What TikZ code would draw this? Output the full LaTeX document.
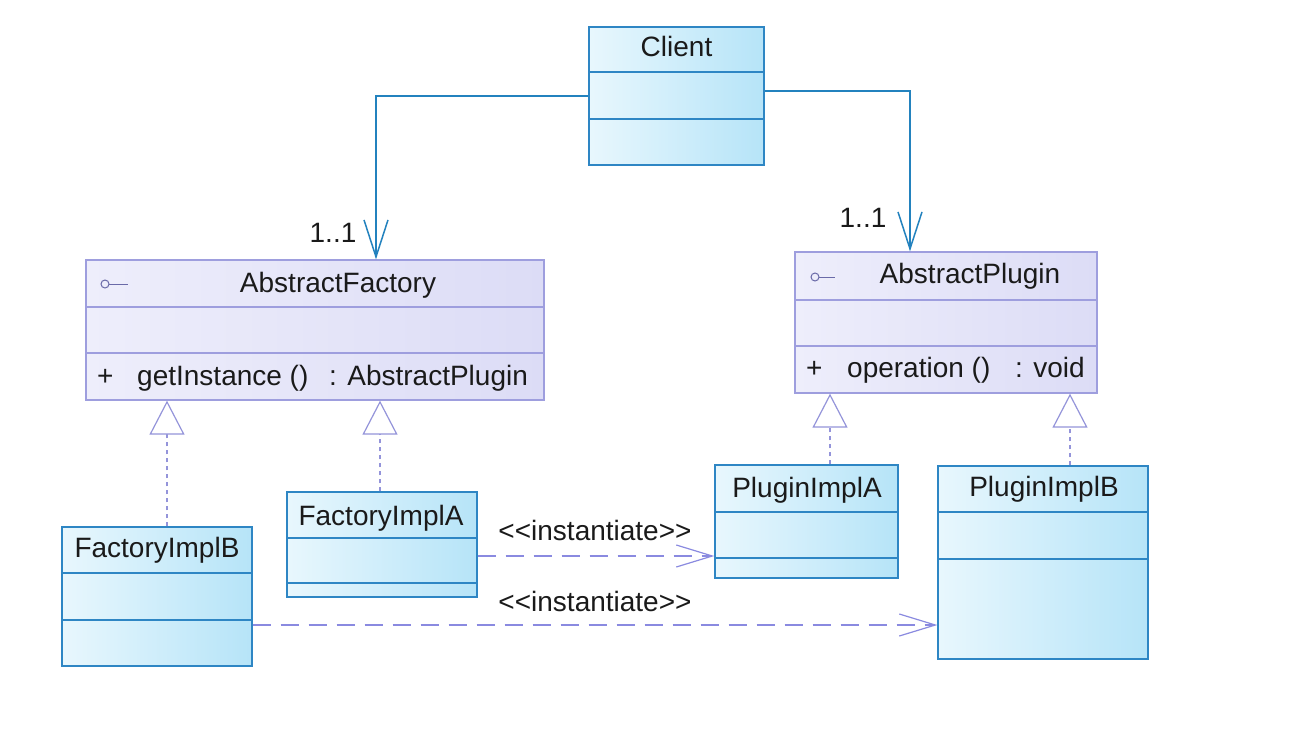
\documentclass[tikz,border=0pt]{standalone}
\usepackage{fontspec}
\setmainfont{Liberation Sans}
\usetikzlibrary{arrows.meta}
\definecolor{cyanL}{HTML}{E8F7FD}
\definecolor{cyanR}{HTML}{B6E4F8}
\definecolor{cyanB}{HTML}{2E86C4}
\definecolor{lavL}{HTML}{EEEEFB}
\definecolor{lavR}{HTML}{DCDCF6}
\definecolor{lavB}{HTML}{9E9EDE}
\definecolor{assocC}{HTML}{2382BE}
\definecolor{inhC}{HTML}{9494DA}
\definecolor{instC}{HTML}{8A8AE0}
\definecolor{textC}{HTML}{1A1A1A}
\definecolor{symC}{HTML}{6A6AA8}
\begin{document}
\begin{tikzpicture}[x=1pt,y=-1pt,
  cbox/.style={rectangle, draw=cyanB, line width=1.3pt, left color=cyanL, right color=cyanR, inner sep=0pt},
  pbox/.style={rectangle, draw=lavB, line width=1.3pt, left color=lavL, right color=lavR, inner sep=0pt},
  cdiv/.style={draw=cyanB, line width=1.3pt},
  pdiv/.style={draw=lavB, line width=1.3pt},
  txt/.style={font=\fontsize{28}{32}\selectfont, text=textC, inner sep=0pt},
  assoc/.style={draw=assocC, line width=1.5pt, -{Straight Barb[length=37pt, width=24pt]}},
  inh/.style={draw=inhC, line width=1.2pt, dash pattern=on 4pt off 4pt, -{Triangle[open, length=34pt, width=35pt, fill=white]}},
  inst/.style={draw=instC, line width=1.2pt, dash pattern=on 18pt off 10pt, -{Straight Barb[length=36pt, width=22pt]}},
  sym/.style={draw=symC, line width=1pt}
]
\useasboundingbox[fill=white] (0,0) rectangle (1290,752);

% Client
\node[cbox, minimum width=175pt, minimum height=138pt] (client) at (676.5,96) {};
\draw[cdiv] (client.west |- 0,72) -- (client.east |- 0,72);
\draw[cdiv] (client.west |- 0,119) -- (client.east |- 0,119);
\node[txt, anchor=base] (clientname) at (676.5,57) {Client};

% AbstractFactory
\node[pbox, minimum width=458pt, minimum height=140pt] (af) at (315,330) {};
\draw[pdiv] (af.west |- 0,307) -- (af.east |- 0,307);
\draw[pdiv] (af.west |- 0,353) -- (af.east |- 0,353);
\node[txt, anchor=base] (afname) at (338,292) {AbstractFactory};
\draw[sym] (105,284) circle (4);
\draw[sym] (109,284) -- (128,284);
\node[txt, anchor=base west] (afplus) at (97,385) {+};
\node[txt, anchor=base west] (afop) at (137,385) {getInstance ()};
\node[txt, anchor=base west] (afret) at (329,385) {: AbstractPlugin};

% AbstractPlugin
\node[pbox, minimum width=302pt, minimum height=141pt] (ap) at (946,322.5) {};
\draw[pdiv] (ap.west |- 0,300) -- (ap.east |- 0,300);
\draw[pdiv] (ap.west |- 0,346) -- (ap.east |- 0,346);
\node[txt, anchor=base] (apname) at (970,283) {AbstractPlugin};
\draw[sym] (815,277) circle (4);
\draw[sym] (819,277) -- (835,277);
\node[txt, anchor=base west] (applus) at (806,377) {+};
\node[txt, anchor=base west] (apop) at (847,377) {operation ()};
\node[txt, anchor=base west] (apret) at (1015,377) {: void};

% FactoryImplB
\node[cbox, minimum width=190pt, minimum height=139pt] (fib) at (157,596.5) {};
\draw[cdiv] (fib.west |- 0,573) -- (fib.east |- 0,573);
\draw[cdiv] (fib.west |- 0,620) -- (fib.east |- 0,620);
\node[txt, anchor=base] (fibname) at (157,557) {FactoryImplB};

% FactoryImplA
\node[cbox, minimum width=190pt, minimum height=105pt] (fia) at (382,544.5) {};
\draw[cdiv] (fia.west |- 0,538) -- (fia.east |- 0,538);
\draw[cdiv] (fia.west |- 0,583) -- (fia.east |- 0,583);
\node[txt, anchor=base] (fianame) at (381,525) {FactoryImplA};

% PluginImplA
\node[cbox, minimum width=183pt, minimum height=113pt] (pia) at (806.5,521.5) {};
\draw[cdiv] (pia.west |- 0,512) -- (pia.east |- 0,512);
\draw[cdiv] (pia.west |- 0,558) -- (pia.east |- 0,558);
\node[txt, anchor=base] (pianame) at (807,497) {PluginImplA};

% PluginImplB
\node[cbox, minimum width=210pt, minimum height=193pt] (pib) at (1043,562.5) {};
\draw[cdiv] (pib.west |- 0,512) -- (pib.east |- 0,512);
\draw[cdiv] (pib.west |- 0,559) -- (pib.east |- 0,559);
\node[txt, anchor=base] (pibname) at (1044,496) {PluginImplB};

% Associations
\draw[assoc] (client.west |- 0,96) -| (af.north -| 376,0);
\draw[assoc] (client.east |- 0,91) -| (ap.north -| 910,0);
\node[txt, anchor=base] (m1) at (333,242) {1..1};
\node[txt, anchor=base] (m2) at (863,227) {1..1};

% Realizations
\draw[inh] (fib.north -| 167,0) -- (af.south -| 167,0);
\draw[inh] (fia.north -| 380,0) -- (af.south -| 380,0);
\draw[inh] (pia.north -| 830,0) -- (ap.south -| 830,0);
\draw[inh] (pib.north -| 1070,0) -- (ap.south -| 1070,0);

% Instantiate dependencies
\draw[inst] (fia.east |- 0,556) -- (pia.west |- 0,556);
\node[txt, anchor=base] (inst1) at (595,540) {<{}<instantiate>{}>};
\draw[inst] (fib.east |- 0,625) -- (pib.west |- 0,625);
\node[txt, anchor=base] (inst2) at (595,611) {<{}<instantiate>{}>};
\end{tikzpicture}
\end{document}
